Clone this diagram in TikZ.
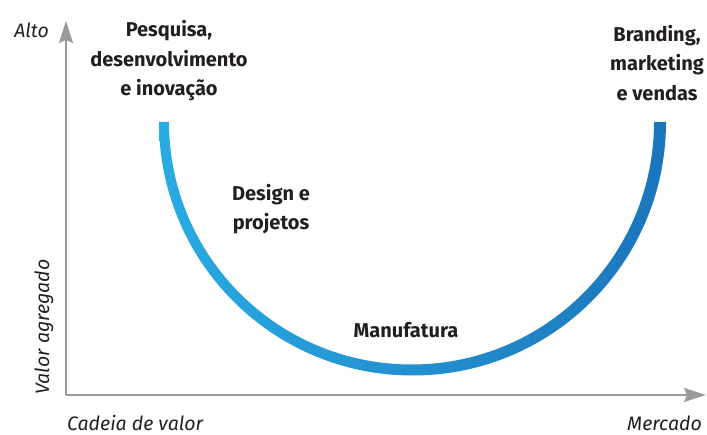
\documentclass[tikz,border=0pt]{standalone}
\usepackage{fontspec}
\setmainfont{Fira Sans}
\usetikzlibrary{arrows.meta}
\definecolor{txt}{HTML}{231F20}
\definecolor{axisgray}{HTML}{9A9A9A}
\definecolor{cleft}{HTML}{29ABE2}
\definecolor{cright}{HTML}{1C75BC}
\tikzset{
  axisline/.style={draw=axisgray, line width=1.5pt, -{Stealth[length=22pt,width=14pt,inset=3pt,fill=axisgray]}},
  axislabel/.style={text=txt, font=\fontsize{19.5}{22}\selectfont\itshape, inner sep=0pt},
  stagelabel/.style={text=txt, font=\fontsize{20}{29.5}\selectfont\bfseries, align=center, inner sep=0pt}
}
\begin{document}
\begin{tikzpicture}[x=1pt,y=1pt]
\useasboundingbox (0,0) rectangle (707,435);
% axes
\coordinate (O) at (66,40);
\coordinate (ytip) at (66,414);
\coordinate (xtip) at (706,40);
\draw[axisline] (O) -- (ytip);
\draw[axisline] (O) -- (xtip);
% curve
\shade[left color=cleft, right color=cright]
  (159,313) arc[start angle=180, end angle=360, radius=253.5]
  -- (654,313) arc[start angle=360, end angle=180, radius=242.5] -- cycle;
% axis labels
\node[axislabel, anchor=east] (alto) at (49,405) {Alto};
\node[axislabel, rotate=90] (valor) at (44,108) {Valor agregado};
\node[axislabel, anchor=west] (cadeia) at (67,12) {Cadeia de valor};
\node[axislabel, anchor=east] (mercado) at (702,12) {Mercado};
% stage labels
\node[stagelabel] (pesquisa) at (169,374) {Pesquisa,\\desenvolvimento\\e inovação};
\node[stagelabel] (branding) at (657,372) {Branding,\\marketing\\e vendas};
\node[stagelabel] (design) at (271,226) {Design e\\projetos};
\node[stagelabel] (manuf) at (406,105) {Manufatura};
\end{tikzpicture}
\end{document}
